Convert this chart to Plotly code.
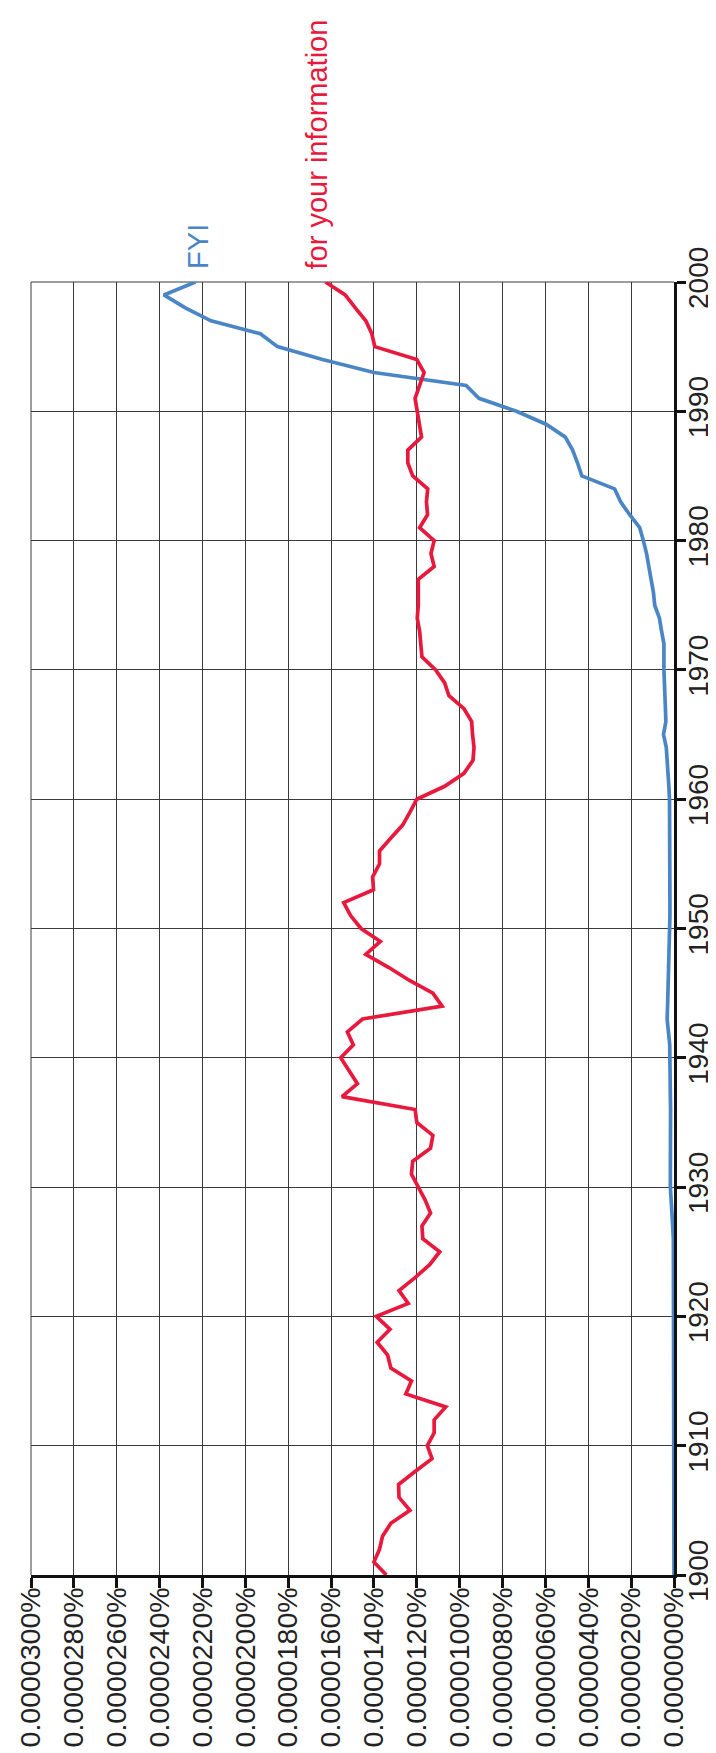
import plotly.graph_objects as go

# Years on the (vertical) category axis
years = list(range(1900, 2001))

# Values in units of 0.0000001 % (i.e. tick "0.0000020%" == 2.0)
fyi = [0] * 26 + [
    0.03, 0.06, 0.10, 0.13, 0.17,            # 1926-1930
    0.17, 0.16, 0.16, 0.16, 0.16,            # 1931-1935
    0.16, 0.17, 0.17, 0.17, 0.17,            # 1936-1940
    0.20, 0.26, 0.32, 0.30, 0.28,            # 1941-1945
    0.28, 0.28, 0.26, 0.24, 0.21,            # 1946-1950
    0.19, 0.19, 0.19, 0.19, 0.19,            # 1951-1955
    0.19, 0.19, 0.19, 0.20, 0.21,            # 1956-1960
    0.24, 0.28, 0.32, 0.36, 0.49,            # 1961-1965
    0.38, 0.40, 0.43, 0.45, 0.47,            # 1966-1970
    0.47, 0.47, 0.58, 0.68, 0.90,            # 1971-1975
    0.96, 1.07, 1.17, 1.28, 1.43,            # 1976-1980
    1.60, 2.07, 2.49, 2.77, 4.30,            # 1981-1985
    4.50, 4.73, 5.07, 5.97, 7.35,            # 1986-1990
    9.10, 9.70, 14.0, 16.4, 18.5,            # 1991-1995
    19.3, 21.6, 22.8, 23.8, 22.33,           # 1996-2000
]

for_your_information = [
    13.42, 14.00, 13.74, 13.60, 13.21,       # 1900-1904
    12.32, 12.83, 12.85, 12.08, 11.29,       # 1905-1909
    11.51, 11.19, 11.19, 10.65, 12.51,       # 1910-1914
    12.25, 13.21, 13.36, 13.85, 13.25,       # 1915-1919
    13.89, 12.40, 12.83, 12.08, 11.40,       # 1920-1924
    10.93, 11.72, 11.76, 11.36, 11.61,       # 1925-1929
    11.93, 12.25, 12.19, 11.36, 11.25,       # 1930-1934
    12.00, 12.08, 15.49, 14.77, 15.17,       # 1935-1939
    15.55, 14.96, 15.24, 14.53, 10.82,       # 1940-1944
    11.25, 12.36, 13.32, 14.38, 13.70,       # 1945-1949
    14.60, 15.09, 15.41, 14.02, 14.06,       # 1950-1954
    13.74, 13.74, 13.21, 12.66, 12.32,       # 1955-1959
    12.00, 10.70, 9.80, 9.38, 9.33,          # 1960-1964
    9.40, 9.44, 9.80, 10.50, 10.70,          # 1965-1969
    11.12, 11.76, 11.80, 11.87, 11.98,       # 1970-1974
    11.93, 11.93, 11.93, 11.19, 11.34,       # 1975-1979
    11.19, 11.87, 11.50, 11.55, 11.49,       # 1980-1984
    12.19, 12.42, 12.42, 11.78, 11.89,       # 1985-1989
    12.00, 12.08, 11.87, 11.66, 12.00,       # 1990-1994
    13.96, 14.10, 14.38, 14.87, 15.34,       # 1995-1999
    16.26,                                   # 2000
]

pct_ticks = [0, 2, 4, 6, 8, 10, 12, 14, 16, 18, 20, 22, 24, 26, 28, 30]
pct_labels = ["0.0000000%", "0.0000020%", "0.0000040%", "0.0000060%",
              "0.0000080%", "0.0000100%", "0.0000120%", "0.0000140%",
              "0.0000160%", "0.0000180%", "0.0000200%", "0.0000220%",
              "0.0000240%", "0.0000260%", "0.0000280%", "0.0000300%"]
year_ticks = [1900, 1910, 1920, 1930, 1940, 1950, 1960, 1970, 1980, 1990, 2000]

series_names = ["FYI", "for your information"]
series_colors = ["#4A86C6", "#E8193C"]

FONT = "Liberation Sans, Arial, Helvetica, sans-serif"
GRID = "#3a3a3a"
AXIS = "#111111"

fig = go.Figure()
for name, vals, col in zip(series_names, [fyi, for_your_information], series_colors):
    fig.add_trace(go.Scatter(
        x=vals, y=years, mode="lines", name=name,
        line=dict(color=col, width=3.7),
        cliponaxis=False, hoverinfo="skip",
    ))

fig.add_annotation(x=fyi[-1], y=2000, xref="x", yref="y", text=series_names[0],
                   textangle=-90, showarrow=False, xanchor="center", yanchor="bottom",
                   yshift=11, xshift=2,
                   font=dict(family=FONT, size=29, color=series_colors[0]))
fig.add_annotation(x=for_your_information[-1], y=2000, xref="x", yref="y",
                   text=series_names[1], textangle=-90, showarrow=False,
                   xanchor="center", yanchor="bottom", yshift=11, xshift=-8,
                   font=dict(family=FONT, size=29, color=series_colors[1]))

# frame lines along the top and left edges of the plot area (grid at range ends)
fig.add_shape(type="line", xref="paper", yref="paper", x0=0, x1=1, y0=1, y1=1,
              line=dict(color=GRID, width=1), layer="below")
fig.add_shape(type="line", xref="paper", yref="paper", x0=0, x1=0, y0=0, y1=1,
              line=dict(color=GRID, width=1), layer="below")

fig.update_layout(
    width=716, height=1753,
    margin=dict(l=23, r=50, t=274, b=186, pad=0),
    plot_bgcolor="white", paper_bgcolor="white",
    showlegend=False,
    font=dict(family=FONT, size=28, color="#222222"),
    xaxis=dict(
        range=[30, 0], tickmode="array", tickvals=pct_ticks, ticktext=pct_labels,
        tickangle=-90, tickfont=dict(size=28.5, color="#222222"),
        ticklabelstandoff=-12,
        showgrid=True, gridcolor=GRID, gridwidth=1,
        showline=True, linecolor=AXIS, linewidth=3,
        ticks="outside", ticklen=10, tickwidth=2.7, tickcolor=AXIS,
        zeroline=False, fixedrange=True, automargin=False,
    ),
    yaxis=dict(
        range=[1900, 2000], side="right", tickmode="array", tickvals=year_ticks,
        tickangle=-90, tickfont=dict(size=28, color="#222222"),
        ticklabelstandoff=-12,
        showgrid=True, gridcolor=GRID, gridwidth=1,
        showline=True, linecolor=AXIS, linewidth=3,
        ticks="outside", ticklen=9, tickwidth=2.7, tickcolor=AXIS,
        zeroline=False, fixedrange=True, automargin=False,
    ),
)

fig.write_html("out.html")
